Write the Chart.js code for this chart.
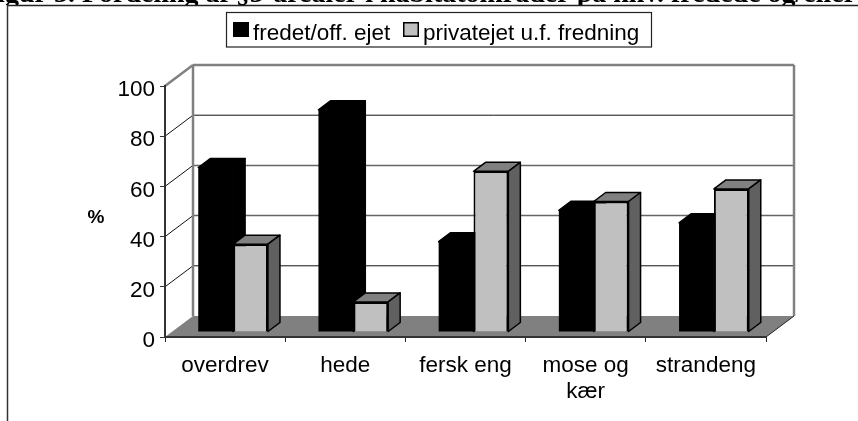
<!DOCTYPE html>
<html>
<head>
<meta charset="utf-8">
<title>Fordeling af §3-arealer</title>
<script src="https://cdn.jsdelivr.net/npm/chart.js@4"></script>
<style>
html, body { margin: 0; padding: 0; background: #fff; overflow: hidden; }
canvas { display: block; }
</style>
</head>
<body>
<canvas id="chart" width="858" height="421"></canvas>
<script>
var captionText = 'Figur 3. Fordeling af §3-arealer i habitatområder på hhv. fredede og/eller';
var unitLabel = '%';
var categories = ['overdrev', 'hede', 'fersk eng', ['mose og', 'kær'], 'strandeng'];
var fredet = [65.5, 88.5, 36, 48.5, 43.5];
var privat = [35, 12, 64, 52, 57];

var FONT = '"Liberation Sans", Arial, sans-serif';
var WALL_DX = 28, WALL_DY = 21;      // depth of the whole 3d box
var BAR_DX = 8, BAR_DY = 5;          // bars stand a little way in on the floor
var SIDE_DX = 12, SIDE_DY = 9;       // depth of one bar

function line(ctx, x1, y1, x2, y2, color, width) {
	ctx.strokeStyle = color;
	ctx.lineWidth = width;
	ctx.beginPath();
	ctx.moveTo(x1, y1);
	ctx.lineTo(x2, y2);
	ctx.stroke();
}

function poly(ctx, pts, fill, stroke) {
	ctx.beginPath();
	ctx.moveTo(pts[0][0], pts[0][1]);
	for (var i = 1; i < pts.length; i++) ctx.lineTo(pts[i][0], pts[i][1]);
	ctx.closePath();
	ctx.fillStyle = fill;
	ctx.fill();
	if (stroke) {
		ctx.strokeStyle = stroke;
		ctx.lineWidth = 1.5;
		ctx.lineJoin = 'round';
		ctx.stroke();
	}
}

var boxPlugin = {
	id: 'box',
	// y labels sit a bit under their tick in the original
	afterLayout: function(chart) {
		var s = chart.scales.y, drawLabels = s.drawLabels;
		if (s.labelsMoved) return;
		s.labelsMoved = true;
		s.drawLabels = function(area) {
			chart.ctx.save();
			chart.ctx.translate(0, 4);
			drawLabels.call(s, area);
			chart.ctx.restore();
		};
	},
	// back wall, side wall and floor of the box, behind everything
	beforeDraw: function(chart) {
		var ctx = chart.ctx, a = chart.chartArea, y = chart.scales.y;
		var bx = a.left + WALL_DX, bxr = a.right + WALL_DX;
		var top = y.getPixelForValue(100), zero = y.getPixelForValue(0);
		ctx.save();
		poly(ctx, [[a.left, zero], [a.right, zero], [bxr, zero - WALL_DY], [bx, zero - WALL_DY]], '#808080');
		[20, 40, 60, 80].forEach(function(v) {
			var py = y.getPixelForValue(v);
			var c = (v === 40 || v === 60) ? '#666' : '#111';
			var w = (v === 40 || v === 60) ? 1.5 : 1;
			line(ctx, a.left, py, bx, py - WALL_DY, '#111', 1);
			line(ctx, bx, py - WALL_DY, bxr, py - WALL_DY, c, w);
		});
		line(ctx, a.left, top, bx, top - WALL_DY, '#808080', 2.5);
		line(ctx, bx, top - WALL_DY, bxr, top - WALL_DY, '#808080', 2.5);
		line(ctx, bx, top - WALL_DY, bx, zero - WALL_DY, '#808080', 2.5);
		line(ctx, bxr, top - WALL_DY, bxr, zero - WALL_DY, '#808080', 2.5);
		line(ctx, a.right, zero, bxr, zero - WALL_DY, '#222', 1);
		ctx.restore();
	},
	// the library draws in reverse order, grey has to come after black here
	beforeDatasetDraw: function() {
		return false;
	},
	afterDatasetsDraw: function(chart) {
		var ctx = chart.ctx;
		chart.data.datasets.forEach(function(ds, i) {
			ctx.save();
			ctx.translate(BAR_DX, -BAR_DY);
			chart.getDatasetMeta(i).data.forEach(function(bar) {
				var l = bar.x - bar.width / 2, r = bar.x + bar.width / 2;
				poly(ctx, [[l, bar.y], [l + SIDE_DX, bar.y - SIDE_DY], [r + SIDE_DX, bar.y - SIDE_DY], [r, bar.y]], ds.topColor, '#000');
				poly(ctx, [[r, bar.y], [r + SIDE_DX, bar.y - SIDE_DY], [r + SIDE_DX, bar.base - SIDE_DY], [r, bar.base]], ds.sideColor, '#000');
				bar.draw(ctx);
			});
			ctx.restore();
		});
	},
	afterDraw: function(chart) {
		var ctx = chart.ctx;
		ctx.save();
		// cut off caption and page frame
		ctx.save();
		ctx.beginPath();
		ctx.rect(0, 0, 858, 5);
		ctx.clip();
		ctx.fillStyle = '#000';
		ctx.font = 'bold 28px "Liberation Serif", serif';
		ctx.textBaseline = 'alphabetic';
		ctx.textAlign = 'left';
		ctx.fillText(captionText, -20, 2);
		ctx.restore();
		line(ctx, 7, 5.5, 858, 5.5, '#222', 1.5);
		line(ctx, 7.5, 5, 7.5, 421, '#333', 1.5);

		// unit
		ctx.fillStyle = '#000';
		ctx.font = 'bold 19px ' + FONT;
		ctx.textAlign = 'center';
		ctx.textBaseline = 'middle';
		ctx.fillText(unitLabel, 96, 218);

		// legend frame and entries
		ctx.strokeStyle = '#222';
		ctx.lineWidth = 1.2;
		ctx.strokeRect(226.5, 12.5, 425, 34.5);
		ctx.font = '22.5px ' + FONT;
		ctx.textAlign = 'left';
		ctx.textBaseline = 'alphabetic';
		var xs = [233, 403];
		chart.data.datasets.forEach(function(ds, i) {
			ctx.fillStyle = ds.backgroundColor;
			ctx.fillRect(xs[i], 22, 16, 15);
			ctx.strokeStyle = '#000';
			ctx.lineWidth = 1.5;
			ctx.strokeRect(xs[i] + 0.75, 22.75, 14.5, 13.5);
			ctx.fillStyle = '#000';
			ctx.fillText(ds.label, xs[i] + 20, 40);
		});
		ctx.restore();
	}
};

new Chart(document.getElementById('chart').getContext('2d'), {
	type: 'bar',
	data: {
		labels: categories,
		datasets: [
			{ label: 'fredet/off. ejet', data: fredet, backgroundColor: '#000000', topColor: '#000000', sideColor: '#000000', borderWidth: 0 },
			{ label: 'privatejet u.f. fredning', data: privat, backgroundColor: '#c0c0c0', topColor: '#808080', sideColor: '#606060', borderColor: '#000', borderWidth: 2 }
		]
	},
	options: {
		responsive: false,
		animation: false,
		layout: { padding: { left: 0, right: 92, top: 86, bottom: 0 } },
		datasets: { bar: { categoryPercentage: 0.58, barPercentage: 1 } },
		plugins: { legend: { display: false }, title: { display: false }, tooltip: { enabled: false } },
		scales: {
			x: {
				afterFit: function(scale) { scale.height = 84; },
				grid: { drawOnChartArea: false, color: '#222', tickLength: 5, tickWidth: 1 },
				border: { color: '#333', width: 2 },
				ticks: { color: '#000', font: { family: FONT, size: 22.5, lineHeight: 1.15 }, maxRotation: 0, autoSkip: false, padding: 11 }
			},
			y: {
				min: 0,
				max: 100,
				afterFit: function(scale) { scale.width = 165; },
				grid: { drawOnChartArea: false, color: '#333', tickLength: 5, tickWidth: 1 },
				border: { color: '#333', width: 2 },
				ticks: { color: '#000', stepSize: 20, font: { family: FONT, size: 22.5 }, padding: 5 }
			}
		}
	},
	plugins: [boxPlugin]
});
</script>
</body>
</html>
